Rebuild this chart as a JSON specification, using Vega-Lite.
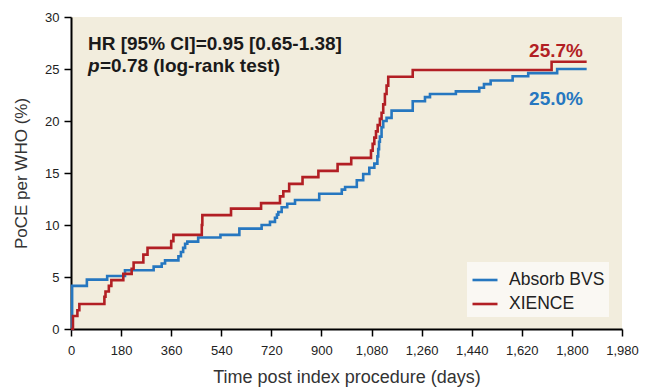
{
  "$schema": "https://vega.github.io/schema/vega-lite/v6.json",
  "width": 551,
  "height": 312,
  "autosize": {"type": "none"},
  "padding": {"left": 71, "top": 17, "right": 23, "bottom": 59},
  "background": "white",
  "config": {
    "view": {"fill": "#f2eddd", "stroke": null},
    "axis": {
      "grid": false,
      "domainColor": "#000",
      "domainWidth": 2,
      "tickColor": "#000",
      "tickWidth": 1.5,
      "tickSize": 7,
      "labelFont": "Liberation Sans",
      "labelFontSize": 13,
      "labelColor": "#222",
      "labelOverlap": false,
      "labelFlush": false,
      "titleFont": "Liberation Sans",
      "titleFontSize": 17,
      "titleFontWeight": "normal",
      "titleColor": "#333"
    },
    "text": {"font": "Liberation Sans", "fontWeight": "bold", "fontSize": 19, "baseline": "alphabetic"}
  },
  "datasets": {
    "km": [
      {"g": "Absorb BVS", "d": 0, "v": 0},
      {"g": "Absorb BVS", "d": 4, "v": 4.15},
      {"g": "Absorb BVS", "d": 57, "v": 4.75},
      {"g": "Absorb BVS", "d": 130, "v": 5.1},
      {"g": "Absorb BVS", "d": 194, "v": 5.65},
      {"g": "Absorb BVS", "d": 297, "v": 6.0},
      {"g": "Absorb BVS", "d": 326, "v": 6.3},
      {"g": "Absorb BVS", "d": 338, "v": 6.6},
      {"g": "Absorb BVS", "d": 386, "v": 7.0},
      {"g": "Absorb BVS", "d": 395, "v": 7.4},
      {"g": "Absorb BVS", "d": 403, "v": 7.8},
      {"g": "Absorb BVS", "d": 410, "v": 8.2},
      {"g": "Absorb BVS", "d": 418, "v": 8.4},
      {"g": "Absorb BVS", "d": 457, "v": 8.8},
      {"g": "Absorb BVS", "d": 537, "v": 9.05},
      {"g": "Absorb BVS", "d": 605, "v": 9.65},
      {"g": "Absorb BVS", "d": 685, "v": 10.0},
      {"g": "Absorb BVS", "d": 715, "v": 10.3},
      {"g": "Absorb BVS", "d": 733, "v": 10.7},
      {"g": "Absorb BVS", "d": 740, "v": 11.0},
      {"g": "Absorb BVS", "d": 745, "v": 11.25},
      {"g": "Absorb BVS", "d": 757, "v": 11.7},
      {"g": "Absorb BVS", "d": 777, "v": 12.05},
      {"g": "Absorb BVS", "d": 805, "v": 12.4},
      {"g": "Absorb BVS", "d": 892, "v": 13.0},
      {"g": "Absorb BVS", "d": 973, "v": 13.4},
      {"g": "Absorb BVS", "d": 985, "v": 13.65},
      {"g": "Absorb BVS", "d": 1027, "v": 14.3},
      {"g": "Absorb BVS", "d": 1050, "v": 14.9},
      {"g": "Absorb BVS", "d": 1072, "v": 15.5},
      {"g": "Absorb BVS", "d": 1090, "v": 15.9},
      {"g": "Absorb BVS", "d": 1101, "v": 16.6},
      {"g": "Absorb BVS", "d": 1104, "v": 17.3},
      {"g": "Absorb BVS", "d": 1107, "v": 18.0},
      {"g": "Absorb BVS", "d": 1110, "v": 18.5},
      {"g": "Absorb BVS", "d": 1116, "v": 19.4},
      {"g": "Absorb BVS", "d": 1122, "v": 20.0},
      {"g": "Absorb BVS", "d": 1134, "v": 20.3},
      {"g": "Absorb BVS", "d": 1152, "v": 21.0},
      {"g": "Absorb BVS", "d": 1228, "v": 21.9},
      {"g": "Absorb BVS", "d": 1272, "v": 22.3},
      {"g": "Absorb BVS", "d": 1290, "v": 22.6},
      {"g": "Absorb BVS", "d": 1383, "v": 22.85},
      {"g": "Absorb BVS", "d": 1467, "v": 23.2},
      {"g": "Absorb BVS", "d": 1484, "v": 23.55},
      {"g": "Absorb BVS", "d": 1508, "v": 23.9},
      {"g": "Absorb BVS", "d": 1587, "v": 24.3},
      {"g": "Absorb BVS", "d": 1643, "v": 24.6},
      {"g": "Absorb BVS", "d": 1747, "v": 25.0},
      {"g": "Absorb BVS", "d": 1853, "v": 25.0},
      {"g": "XIENCE", "d": 0, "v": 0},
      {"g": "XIENCE", "d": 7, "v": 1.25},
      {"g": "XIENCE", "d": 23, "v": 1.8},
      {"g": "XIENCE", "d": 30, "v": 2.4},
      {"g": "XIENCE", "d": 120, "v": 3.1},
      {"g": "XIENCE", "d": 124, "v": 3.6},
      {"g": "XIENCE", "d": 136, "v": 4.15},
      {"g": "XIENCE", "d": 145, "v": 4.7},
      {"g": "XIENCE", "d": 188, "v": 5.3},
      {"g": "XIENCE", "d": 218, "v": 5.8},
      {"g": "XIENCE", "d": 225, "v": 6.4},
      {"g": "XIENCE", "d": 260, "v": 7.15},
      {"g": "XIENCE", "d": 275, "v": 7.8},
      {"g": "XIENCE", "d": 360, "v": 8.45},
      {"g": "XIENCE", "d": 368, "v": 9.05},
      {"g": "XIENCE", "d": 470, "v": 10.0},
      {"g": "XIENCE", "d": 472, "v": 10.95},
      {"g": "XIENCE", "d": 575, "v": 11.57},
      {"g": "XIENCE", "d": 683, "v": 12.1},
      {"g": "XIENCE", "d": 751, "v": 12.75},
      {"g": "XIENCE", "d": 763, "v": 13.25},
      {"g": "XIENCE", "d": 784, "v": 13.95},
      {"g": "XIENCE", "d": 832, "v": 14.6},
      {"g": "XIENCE", "d": 889, "v": 15.2},
      {"g": "XIENCE", "d": 958, "v": 15.85},
      {"g": "XIENCE", "d": 1007, "v": 16.45},
      {"g": "XIENCE", "d": 1078, "v": 17.15},
      {"g": "XIENCE", "d": 1084, "v": 17.8},
      {"g": "XIENCE", "d": 1090, "v": 18.4},
      {"g": "XIENCE", "d": 1096, "v": 19.0},
      {"g": "XIENCE", "d": 1102, "v": 19.6},
      {"g": "XIENCE", "d": 1110, "v": 20.2},
      {"g": "XIENCE", "d": 1116, "v": 20.8},
      {"g": "XIENCE", "d": 1122, "v": 21.6},
      {"g": "XIENCE", "d": 1128, "v": 22.6},
      {"g": "XIENCE", "d": 1134, "v": 23.4},
      {"g": "XIENCE", "d": 1140, "v": 24.25},
      {"g": "XIENCE", "d": 1228, "v": 24.9},
      {"g": "XIENCE", "d": 1727, "v": 25.7},
      {"g": "XIENCE", "d": 1853, "v": 25.7}
    ]
  },
  "layer": [
    {
      "data": {"name": "km"},
      "mark": {"type": "line", "interpolate": "step-after", "strokeWidth": 2.6},
      "encoding": {
        "x": {
          "field": "d", "type": "quantitative",
          "scale": {"domain": [0, 1980], "nice": false},
          "axis": {"values": [0, 180, 360, 540, 720, 900, 1080, 1260, 1440, 1620, 1800, 1980], "format": ",.0f", "labelPadding": 8, "titlePadding": 11, "titleFontSize": 18, "title": "Time post index procedure (days)"}
        },
        "y": {
          "field": "v", "type": "quantitative",
          "scale": {"domain": [0, 30], "nice": false},
          "axis": {"values": [0, 5, 10, 15, 20, 25, 30], "format": ".0f", "labelPadding": 5, "titlePadding": 14, "title": "PoCE per WHO (%)"}
        },
        "color": {
          "field": "g", "type": "nominal",
          "scale": {"domain": ["Absorb BVS", "XIENCE"], "range": ["#2677c0", "#b21f24"]},
          "legend": {
            "title": null,
            "orient": "none",
            "legendX": 396,
            "legendY": 245,
            "fillColor": "#faf8f3",
            "padding": 4,
            "symbolType": "stroke",
            "symbolSize": 625,
            "symbolStrokeWidth": 2.6,
            "labelFont": "Liberation Sans",
            "labelFontSize": 17.5,
            "labelColor": "#222",
            "rowPadding": 1,
            "labelOffset": 10
          }
        }
      }
    },
    {
      "data": {"values": [{}]},
      "mark": {"type": "text", "align": "left", "color": "#1a1a1a", "text": "HR [95% CI]=0.95 [0.65-1.38]"},
      "encoding": {
        "x": {"datum": 61, "type": "quantitative", "axis": {"values": [0, 180, 360, 540, 720, 900, 1080, 1260, 1440, 1620, 1800, 1980], "format": ",.0f", "labelPadding": 8, "titlePadding": 11, "titleFontSize": 18, "title": "Time post index procedure (days)"}},
        "y": {"datum": 26.85, "type": "quantitative", "axis": {"values": [0, 5, 10, 15, 20, 25, 30], "format": ".0f", "labelPadding": 5, "titlePadding": 14, "title": "PoCE per WHO (%)"}}
      }
    },
    {
      "data": {"values": [{}]},
      "mark": {"type": "text", "align": "left", "fontStyle": "italic", "color": "#1a1a1a", "text": "p"},
      "encoding": {
        "x": {"datum": 61, "type": "quantitative", "axis": {"values": [0, 180, 360, 540, 720, 900, 1080, 1260, 1440, 1620, 1800, 1980], "format": ",.0f", "labelPadding": 8, "titlePadding": 11, "titleFontSize": 18, "title": "Time post index procedure (days)"}},
        "y": {"datum": 24.75, "type": "quantitative", "axis": {"values": [0, 5, 10, 15, 20, 25, 30], "format": ".0f", "labelPadding": 5, "titlePadding": 14, "title": "PoCE per WHO (%)"}}
      }
    },
    {
      "data": {"values": [{}]},
      "mark": {"type": "text", "align": "left", "color": "#1a1a1a", "text": "=0.78 (log-rank test)"},
      "encoding": {
        "x": {"datum": 104, "type": "quantitative", "axis": {"values": [0, 180, 360, 540, 720, 900, 1080, 1260, 1440, 1620, 1800, 1980], "format": ",.0f", "labelPadding": 8, "titlePadding": 11, "titleFontSize": 18, "title": "Time post index procedure (days)"}},
        "y": {"datum": 24.75, "type": "quantitative", "axis": {"values": [0, 5, 10, 15, 20, 25, 30], "format": ".0f", "labelPadding": 5, "titlePadding": 14, "title": "PoCE per WHO (%)"}}
      }
    },
    {
      "data": {"values": [{}]},
      "mark": {"type": "text", "align": "center", "color": "#b21f24", "text": "25.7%"},
      "encoding": {
        "x": {"datum": 1743, "type": "quantitative", "axis": {"values": [0, 180, 360, 540, 720, 900, 1080, 1260, 1440, 1620, 1800, 1980], "format": ",.0f", "labelPadding": 8, "titlePadding": 11, "titleFontSize": 18, "title": "Time post index procedure (days)"}},
        "y": {"datum": 26.2, "type": "quantitative", "axis": {"values": [0, 5, 10, 15, 20, 25, 30], "format": ".0f", "labelPadding": 5, "titlePadding": 14, "title": "PoCE per WHO (%)"}}
      }
    },
    {
      "data": {"values": [{}]},
      "mark": {"type": "text", "align": "center", "color": "#2677c0", "text": "25.0%"},
      "encoding": {
        "x": {"datum": 1743, "type": "quantitative", "axis": {"values": [0, 180, 360, 540, 720, 900, 1080, 1260, 1440, 1620, 1800, 1980], "format": ",.0f", "labelPadding": 8, "titlePadding": 11, "titleFontSize": 18, "title": "Time post index procedure (days)"}},
        "y": {"datum": 21.5, "type": "quantitative", "axis": {"values": [0, 5, 10, 15, 20, 25, 30], "format": ".0f", "labelPadding": 5, "titlePadding": 14, "title": "PoCE per WHO (%)"}}
      }
    }
  ]
}
